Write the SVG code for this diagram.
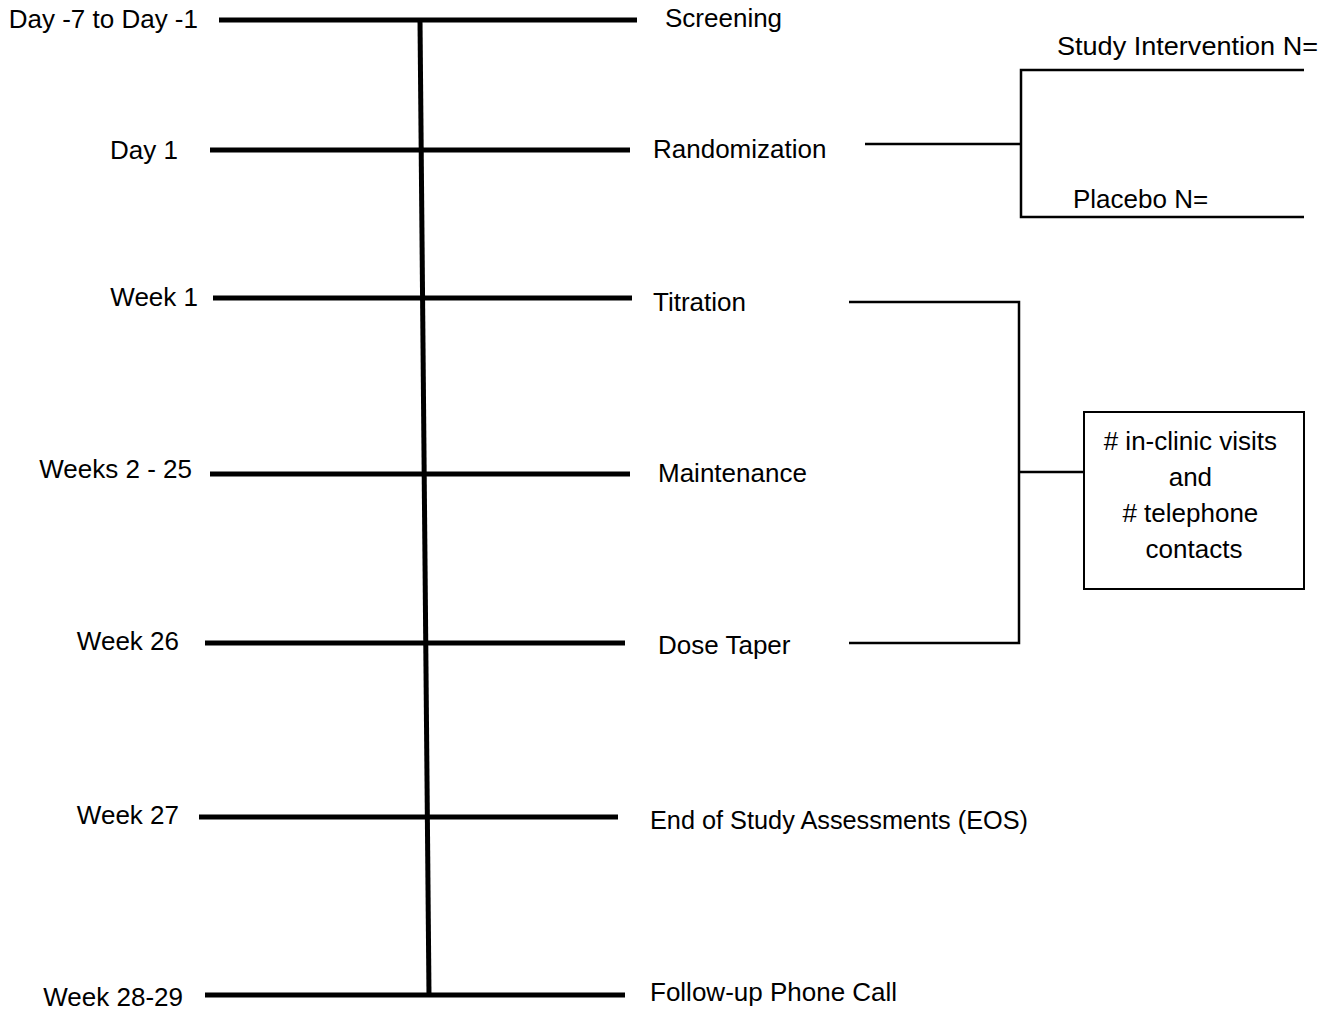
<svg xmlns="http://www.w3.org/2000/svg" width="1330" height="1010" viewBox="0 0 1330 1010">
<style>
text{font-family:"Liberation Sans",Arial,sans-serif;font-size:26px;fill:#000}
.l{text-anchor:end}
.c{text-anchor:middle}
.thick{stroke:#000;stroke-width:5;fill:none}
.thin{stroke:#000;stroke-width:2.5;fill:none}
</style>
<rect width="1330" height="1010" fill="#fff"/>
<g id="connectors">
<line class="thick" x1="420" y1="20" x2="429" y2="995"/>
<line class="thick" x1="219" y1="20" x2="637" y2="20"/>
<line class="thick" x1="210" y1="150" x2="630" y2="150"/>
<line class="thick" x1="213" y1="298" x2="632" y2="298"/>
<line class="thick" x1="210" y1="474" x2="630" y2="474"/>
<line class="thick" x1="205" y1="643" x2="625" y2="643"/>
<line class="thick" x1="199" y1="817" x2="618" y2="817"/>
<line class="thick" x1="205" y1="995" x2="625" y2="995"/>
<polyline class="thin" points="865,144 1021,144"/>
<polyline class="thin" points="1304,70 1021,70 1021,217 1304,217"/>
<polyline class="thin" points="849,302 1019,302 1019,643 849,643"/>
<polyline class="thin" points="1019,472 1084,472"/>
</g>
<g id="screening"><text class="l" x="198" y="28">Day -7 to Day -1</text><text x="665" y="27">Screening</text></g>
<g id="randomization"><text class="l" x="178" y="159">Day 1</text><text x="653" y="158">Randomization</text></g>
<g id="titration"><text class="l" x="198" y="306">Week 1</text><text x="653" y="311">Titration</text></g>
<g id="maintenance"><text class="l" x="192" y="478">Weeks 2 - 25</text><text x="658" y="482">Maintenance</text></g>
<g id="dose-taper"><text class="l" x="179" y="650">Week 26</text><text x="658" y="654">Dose Taper</text></g>
<g id="eos"><text class="l" x="179" y="824">Week 27</text><text x="650" y="829" textLength="378" lengthAdjust="spacingAndGlyphs">End of Study Assessments (EOS)</text></g>
<g id="follow-up"><text class="l" x="183" y="1006">Week 28-29</text><text x="650" y="1001">Follow-up Phone Call</text></g>
<g id="study-intervention"><text x="1057" y="55" textLength="261" lengthAdjust="spacingAndGlyphs">Study Intervention N=</text></g>
<g id="placebo"><text x="1073" y="208">Placebo N=</text></g>
<g id="visits-box">
<rect x="1084" y="412" width="220" height="177" fill="#fff" stroke="#000" stroke-width="2"/>
<text class="c" x="1194" y="450">
<tspan x="1194" y="450"># in-clinic visits</tspan>
<tspan x="1194" y="486">and</tspan>
<tspan x="1194" y="522"># telephone</tspan>
<tspan x="1194" y="558">contacts</tspan>
</text>
</g>
</svg>
